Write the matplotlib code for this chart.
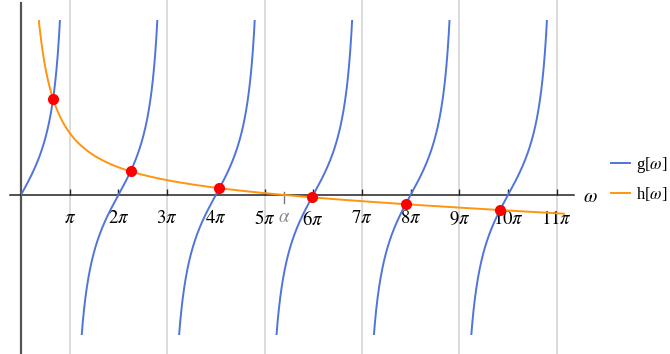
import numpy as np
import matplotlib.pyplot as plt
from matplotlib.patches import Rectangle

# omega measured in units of pi
alpha = 5.41          # root of h
h_scale = 0.0385      # h = h_scale * (alpha^2 - w^2) / w
y_top = 3.07          # plot range used for clipping
y_bottom = -2.46
w_max = 11.17

tick_pos = [1, 2, 3, 4, 5, 6, 7, 8, 9, 10, 11]
tick_lab = [r'$\pi$', r'$2\pi$', r'$3\pi$', r'$4\pi$', r'$5\pi$', r'$6\pi$',
            r'$7\pi$', r'$8\pi$', r'$9\pi$', r'$10\pi$', r'$11\pi$']
grid_pos = [1, 3, 5, 7, 9, 11]

blue = '#4f74dc'
orange = '#ff9410'


def g(w):
    return np.tan(np.pi * w / 2)


def h(w):
    return h_scale * (alpha**2 - w**2) / w


def bisect(a, b, n=80):
    f = lambda w: g(w) - h(w)
    fa = f(a)
    for _ in range(n):
        m = 0.5 * (a + b)
        fm = f(m)
        if np.sign(fm) == np.sign(fa):
            a, fa = m, fm
        else:
            b = m
    return 0.5 * (a + b)


# one crossing per branch of g
eps = 1e-6
roots = [bisect(eps, 1 - eps)]
for k in range(1, 6):
    roots.append(bisect(2 * k - 1 + eps, 2 * k + 1 - eps))
roots = np.array(roots)

plt.rcParams['mathtext.fontset'] = 'stix'
plt.rcParams['font.family'] = ['Liberation Serif', 'DejaVu Serif']

fig = plt.figure(figsize=(6.7, 3.54), dpi=100)
ax = fig.add_axes([0, 0, 1, 1])
ax.set_xlim(-21 / 48.7, 649 / 48.7)
ax.set_ylim(-159 / 57, 195 / 57)
ax.patch.set_visible(False)

clip = Rectangle((0, y_bottom), w_max, y_top - y_bottom, transform=ax.transData)

for gx in grid_pos:
    ax.axvline(gx, color='#d9d9d9', lw=1.3, zorder=0)

w = np.linspace(0, w_max, 40000)
gv = g(w)
gv[np.abs(gv) > 60] = np.nan
line_g, = ax.plot(w, gv, color=blue, lw=1.4, zorder=3, label=r'g[$\omega$]')
line_g.set_clip_path(clip)

wh = np.linspace(0.3, w_max, 5000)
line_h, = ax.plot(wh, h(wh), color=orange, lw=1.4, zorder=3, label=r'h[$\omega$]')
line_h.set_clip_path(clip)

ax.plot(roots, h(roots), 'o', color='#ff0000', ms=7, zorder=4)

# axes through the origin
for s in ['top', 'right']:
    ax.spines[s].set_visible(False)
ax.spines['left'].set_position(('data', 0))
ax.spines['bottom'].set_position(('data', 0))
ax.spines['left'].set_bounds(-158 / 57, 192 / 57)
ax.spines['bottom'].set_bounds(-11 / 48.7, 553 / 48.7)
ax.spines['left'].set_color('#555555')
ax.spines['left'].set_linewidth(1.6)
ax.spines['bottom'].set_color('#222222')
ax.spines['bottom'].set_linewidth(1.1)
ax.set_yticks([])
ax.set_xticks(tick_pos)
ax.set_xticklabels(tick_lab)
ax.tick_params(axis='x', direction='in', length=4, width=1, color='#222222',
               labelsize=13.5, pad=11)

# marker for alpha on the axis
ax.plot([alpha, alpha], [3 / 57, -8 / 57], color='#777777', lw=1, zorder=2)
ax.text(alpha, -22 / 57, r'$\alpha$', color='#888888', fontsize=13.5,
        ha='center', va='center')
ax.text(11.36 + 16 / 48.7, -2 / 57, r'$\omega$', fontsize=14, ha='center', va='center')

ax.legend(handles=[line_g, line_h], loc='center left', bbox_to_anchor=(0.912, 0.494),
          frameon=False, fontsize=12, handlelength=1.15, handletextpad=0.35,
          labelspacing=0.6, borderaxespad=0, borderpad=0)

fig.savefig('out.png', dpi=100)
